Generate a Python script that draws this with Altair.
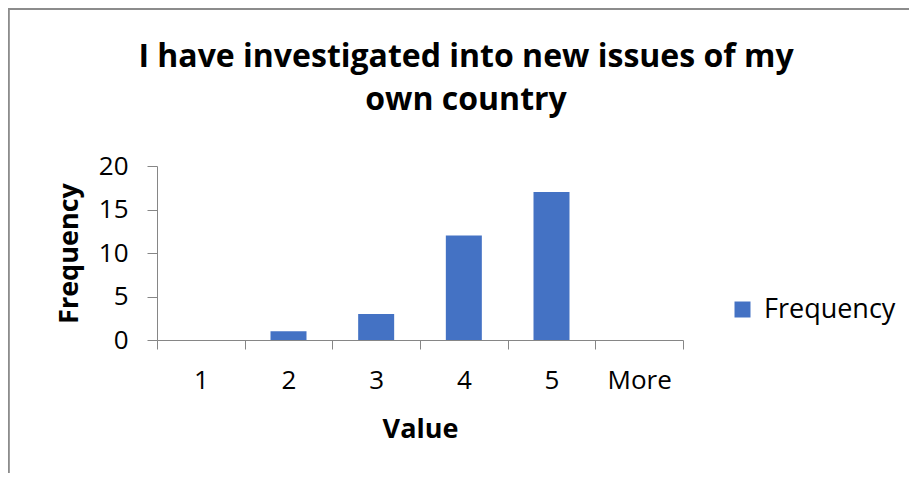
import altair as alt
import pandas as pd

categories = ["1", "2", "3", "4", "5", "More"]
frequency = [0, 1, 3, 12, 17, 0]
series = ["Frequency"] * len(categories)

df = pd.DataFrame({"Value": categories, "Frequency": frequency, "Series": series})

W, H = 526, 174
FONT = "Open Sans"
GRAY = "#868686"
LS = 26

bars = alt.Chart(df).mark_bar(width=36, color="#4472C4").encode(
    x=alt.X("Value:N", sort=categories,
            scale=alt.Scale(paddingInner=0, paddingOuter=0),
            axis=alt.Axis(title="Value", labelAngle=0, tickBand="extent",
                          tickSize=9, domainColor=GRAY, tickColor=GRAY,
                          labelFont=FONT, labelFontSize=LS, labelColor="#000",
                          labelPadding=18, titleFont=FONT, titleFontSize=27,
                          titleFontWeight="bold", titlePadding=23, titleColor="#000")),
    y=alt.Y("Frequency:Q", scale=alt.Scale(domain=[0, 20]),
            axis=alt.Axis(title="Frequency", values=[0, 5, 10, 15, 20], grid=False,
                          tickSize=10, domainColor=GRAY, tickColor=GRAY,
                          labelFont=FONT, labelFontSize=LS, labelColor="#000",
                          labelPadding=19, titleFont=FONT, titleFontSize=27,
                          titleFontWeight="bold", titlePadding=15, titleColor="#000")),
    color=alt.Color("Series:N", scale=alt.Scale(range=["#4472C4"]),
                    legend=alt.Legend(title=None, orient="none", legendX=572, legendY=130,
                                      symbolType="square", symbolSize=256,
                                      symbolStrokeWidth=0, labelFont=FONT,
                                      labelFontSize=27, labelColor="#000", labelOffset=8)),
)

border_top = alt.Chart(df).mark_rule(color="#8c8c8c", strokeWidth=1.5).encode(
    x=alt.value(-160), x2=alt.value(W + 240), y=alt.value(-157)
)
border_left = alt.Chart(df).mark_rule(color="#8c8c8c", strokeWidth=1.5).encode(
    x=alt.value(-148.5), y=alt.value(-157), y2=alt.value(H + 140)
)

chart = alt.layer(border_top, border_left, bars).properties(
    width=W, height=H,
    autosize=alt.AutoSizeParams(type="none"),
    padding={"left": 149, "top": 158, "right": 226, "bottom": 133},
    title=alt.TitleParams(
        text=["I have investigated into new issues of my", "own country"],
        font=FONT, fontSize=32, fontWeight="bold", color="#000",
        anchor="middle", dx=46, dy=129, offset=20, lineHeight=43,
    ),
).configure_view(stroke=None)

chart.save("out.html", embed_options={"renderer": "svg", "actions": False})
